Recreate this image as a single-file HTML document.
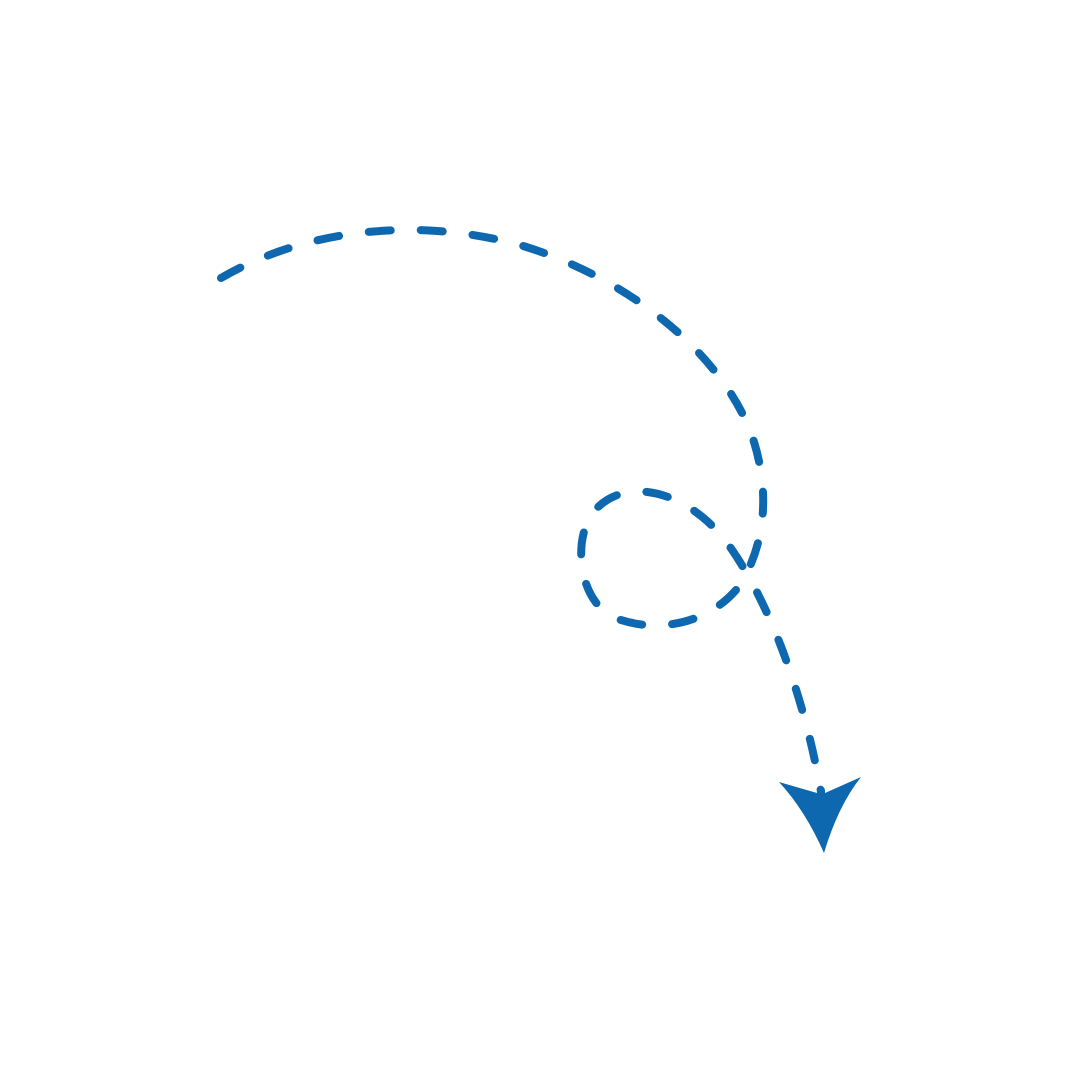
<!DOCTYPE html>
<html><head><meta charset="utf-8"><style>html,body{margin:0;padding:0;background:#fff}svg{display:block}</style></head>
<body>
<svg width="1080" height="1080" viewBox="0 0 1080 1080" xmlns="http://www.w3.org/2000/svg">
<rect width="1080" height="1080" fill="#fff"/>
<path d="M221,278 C300,232 410,215 520,245 C620,275 715,345 750,430 C772,490 765,545 740,585 C712,622 660,635 615,618 C575,600 572,530 598,507 C628,478 685,490 725,540 C770,600 805,700 821,792"
 fill="none" stroke="#0e68b0" stroke-width="8" stroke-linecap="round" stroke-dasharray="22 30"/>
<path d="M779,782 L817,793 L817,790 Q821,782 825,790 L825,793 L861,777 Q838,806 824,853 Q805,810 779,782 Z" fill="#0e68b0"/>
</svg>
</body></html>
